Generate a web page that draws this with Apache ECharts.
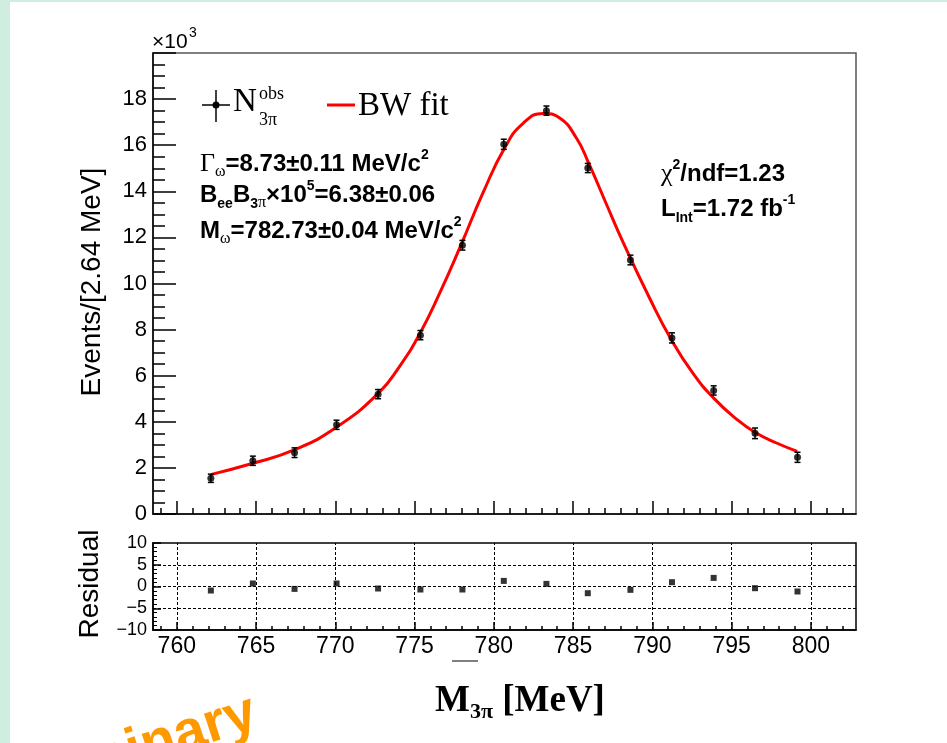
<!DOCTYPE html>
<html>
<head>
<meta charset="utf-8">
<title>M3pi distribution with Breit-Wigner fit</title>
<script src="https://cdn.jsdelivr.net/npm/echarts@6/dist/echarts.min.js"></script>
<style>
  html, body { margin: 0; padding: 0; background: #ffffff; }
  #chart { width: 947px; height: 743px; }
</style>
</head>
<body>
<div id="chart"></div>
<script>
// ---- data: bin centres [MeV], event counts [x10^3], their errors ----
const massBins = [762.15, 764.80, 767.43, 770.08, 772.70, 775.37, 778.02, 780.63,
                  783.32, 785.93, 788.62, 791.24, 793.87, 796.48, 799.16];
const eventsK = [1.55, 2.31, 2.66, 3.87, 5.20, 7.76, 11.66, 16.04,
                 17.50, 15.01, 11.02, 7.64, 5.36, 3.50, 2.46];
const eventErrK = [0.18, 0.20, 0.21, 0.20, 0.20, 0.20, 0.21, 0.22,
                   0.20, 0.20, 0.21, 0.22, 0.20, 0.23, 0.22];

// ---- fitted Breit-Wigner curve, sampled along the mass range ----
const fitMass = [762.19, 764.81, 767.44, 770.07, 772.72, 774.07, 775.33, 776.60,
                 777.96, 779.33, 780.70, 781.85, 783.11, 784.16, 785.22, 785.95,
                 787.10, 788.16, 789.84, 791.21, 792.57, 793.84, 795.31, 796.47,
                 797.84, 799.14];
const fitEventsK = [1.72, 2.20, 2.79, 3.76, 5.24, 6.42, 7.82, 9.60,
                    11.72, 13.95, 15.90, 16.95, 17.38, 17.18, 16.30, 15.28,
                    13.45, 11.78, 9.35, 7.55, 6.10, 5.05, 4.12, 3.55,
                    3.08, 2.72];

// ---- fit residuals per bin ----
const residuals = [-0.92, 0.69, -0.55, 0.69, -0.46, -0.69, -0.69, 1.29,
                   0.60, -1.54, -0.77, 0.99, 1.98, -0.39, -1.15];

// ---- axis ticks ----
const massMajorTicks = [760, 765, 770, 775, 780, 785, 790, 795, 800];
const massMinorTicks = [759, 761, 762, 763, 764, 766, 767, 768, 769, 771, 772, 773, 774,
                        776, 777, 778, 779, 781, 782, 783, 784, 786, 787, 788, 789,
                        791, 792, 793, 794, 796, 797, 798, 799, 801, 802];
const residualGridY = [-5, 0, 5];

// ---- layout ----
const MASS_MIN = 758.5, MASS_MAX = 802.85;
const SANS = '"Liberation Sans", Arial, Helvetica, sans-serif';
const SERIF = '"Liberation Serif", "Times New Roman", serif';
const BLACK = '#000000';

function massAxis(gridIndex, tickValues, tickLen, labelValues) {
  return {
    type: 'value', gridIndex: gridIndex, min: MASS_MIN, max: MASS_MAX, position: 'bottom',
    axisLine: { show: !!labelValues || tickLen > 6, onZero: false, lineStyle: { color: BLACK, width: 1.5 } },
    axisTick: { show: true, inside: true, length: tickLen, customValues: tickValues,
                lineStyle: { color: BLACK, width: 1.5 } },
    axisLabel: labelValues ? {
      show: true, customValues: labelValues, color: BLACK, fontFamily: SANS, fontSize: 23, margin: 5
    } : { show: false },
    splitLine: { show: false }, minorTick: { show: false }, minorSplitLine: { show: false }
  };
}

const chart = echarts.init(document.getElementById('chart'), null, { renderer: 'canvas' });

const annoRich = {
  t: { fontFamily: SANS, fontWeight: 'bold', fontSize: 24, lineHeight: 32, fill: BLACK },
  g: { fontFamily: SERIF, fontWeight: 'normal', fontSize: 26, lineHeight: 32, fill: BLACK },
  w: { fontFamily: SERIF, fontWeight: 'normal', fontSize: 16, lineHeight: 16, verticalAlign: 'bottom', fill: BLACK },
  s: { fontFamily: SANS, fontWeight: 'bold', fontSize: 14, lineHeight: 16, verticalAlign: 'bottom', fill: BLACK },
  sp: { fontFamily: SERIF, fontWeight: 'normal', fontSize: 16, lineHeight: 16, verticalAlign: 'bottom', fill: BLACK },
  p: { fontFamily: SANS, fontWeight: 'bold', fontSize: 14, lineHeight: 20, verticalAlign: 'top', fill: BLACK }
};

function annotation(x, y, text) {
  return { type: 'text', x: x, y: y, silent: true, z: 20,
           style: { text: text, align: 'left', verticalAlign: 'middle', rich: annoRich } };
}

const option = {
  animation: false,
  backgroundColor: '#ffffff',
  grid: [
    { left: 153, top: 53, width: 703, height: 461, show: true, borderColor: '#555555', borderWidth: 1.5 },
    { left: 153, top: 543, width: 703, height: 87, show: true, borderColor: BLACK, borderWidth: 1.5 }
  ],
  xAxis: [
    massAxis(0, massMajorTicks, 13, null),
    massAxis(1, massMajorTicks, 8, massMajorTicks),
    massAxis(0, massMinorTicks, 6, null),
    massAxis(1, massMinorTicks, 4, null)
  ],
  yAxis: [
    {
      type: 'value', gridIndex: 0, min: 0, max: 20, interval: 2,
      axisLine: { show: true, onZero: false, lineStyle: { color: BLACK, width: 1.5 } },
      axisTick: { show: true, inside: true, length: 23, lineStyle: { color: BLACK, width: 1.5 } },
      minorTick: { show: true, splitNumber: 4, length: 12, lineStyle: { color: BLACK, width: 1.5 } },
      axisLabel: { color: BLACK, fontFamily: SANS, fontSize: 22, margin: 6,
                   formatter: v => (v >= 20 ? '' : String(v)) },
      splitLine: { show: false }
    },
    {
      type: 'value', gridIndex: 1, min: -10, max: 10, interval: 5,
      axisLine: { show: true, onZero: false, lineStyle: { color: BLACK, width: 1.5 } },
      axisTick: { show: true, inside: true, length: 8, lineStyle: { color: BLACK, width: 1.5 } },
      minorTick: { show: true, splitNumber: 5, length: 4, lineStyle: { color: BLACK, width: 1 } },
      axisLabel: { color: BLACK, fontFamily: SANS, fontSize: 18, margin: 6,
                   formatter: v => (v < 0 ? '\u2212' + Math.abs(v) : String(v)) },
      splitLine: { show: false }
    }
  ],
  series: [
    {
      name: 'BW fit', type: 'line', xAxisIndex: 0, yAxisIndex: 0, silent: true, z: 2,
      data: fitMass.map((m, i) => [m, fitEventsK[i]]),
      smooth: 0.5, showSymbol: false, symbol: 'none',
      lineStyle: { color: '#ff0000', width: 3 }
    },
    {
      name: 'errors', type: 'custom', xAxisIndex: 0, yAxisIndex: 0, silent: true, z: 3,
      dimensions: ['mass', 'events', 'err'],
      encode: { x: 0, y: 1 },
      data: massBins.map((m, i) => [m, eventsK[i], eventErrK[i]]),
      renderItem: function (params, api) {
        const m = api.value(0), n = api.value(1), e = api.value(2);
        const lo = api.coord([m, n - e]);
        const hi = api.coord([m, n + e]);
        const cap = 3;
        const st = { stroke: BLACK, lineWidth: 1.5 };
        return {
          type: 'group',
          children: [
            { type: 'line', shape: { x1: lo[0], y1: lo[1], x2: hi[0], y2: hi[1] }, style: st },
            { type: 'line', shape: { x1: lo[0] - cap, y1: lo[1], x2: lo[0] + cap, y2: lo[1] }, style: st },
            { type: 'line', shape: { x1: hi[0] - cap, y1: hi[1], x2: hi[0] + cap, y2: hi[1] }, style: st }
          ]
        };
      }
    },
    {
      name: 'N3pi', type: 'scatter', xAxisIndex: 0, yAxisIndex: 0, silent: true, z: 4,
      data: massBins.map((m, i) => [m, eventsK[i]]),
      symbol: 'circle', symbolSize: 7, itemStyle: { color: BLACK }
    },
    {
      name: 'Residual', type: 'scatter', xAxisIndex: 1, yAxisIndex: 1, silent: true, z: 4,
      data: massBins.map((m, i) => [m, residuals[i]]),
      symbol: 'rect', symbolSize: 6, itemStyle: { color: BLACK },
      markLine: {
        silent: true, symbol: ['none', 'none'], animation: false, z: 1,
        label: { show: false },
        lineStyle: { color: BLACK, width: 1, type: [3, 2] },
        emphasis: { disabled: true },
        data: residualGridY.map(v => ({ yAxis: v }))
          .concat(massMajorTicks.map(v => ({ xAxis: v })))
      }
    }
  ],
  graphic: [
    // slide frame strips
    { type: 'rect', silent: true, z: 0, shape: { x: 0, y: 0, width: 10, height: 743 }, style: { fill: '#cfeee0' } },
    { type: 'rect', silent: true, z: 0, shape: { x: 0, y: 0, width: 947, height: 2 }, style: { fill: '#cfeee0' } },

    // y-axis multiplier
    { type: 'text', x: 152, y: 42, silent: true, style: { text: '\u00d710', fontFamily: SANS, fontSize: 21, fill: BLACK, align: 'left', verticalAlign: 'middle' } },
    { type: 'text', x: 189, y: 33, silent: true, style: { text: '3', fontFamily: SANS, fontSize: 14, fill: BLACK, align: 'left', verticalAlign: 'middle' } },

    // axis titles
    { type: 'text', x: 92, y: 282, rotation: Math.PI / 2, silent: true,
      style: { text: 'Events/[2.64 MeV]', fontFamily: SANS, fontSize: 28, fill: BLACK, align: 'center', verticalAlign: 'middle' } },
    { type: 'text', x: 90, y: 584, rotation: Math.PI / 2, silent: true,
      style: { text: 'Residual', fontFamily: SANS, fontSize: 28, fill: BLACK, align: 'center', verticalAlign: 'middle' } },
    { type: 'text', x: 435, y: 701, silent: true,
      style: { text: '{m|M}{s|3\u03c0}{m| [MeV]}', align: 'left', verticalAlign: 'middle',
               rich: {
                 m: { fontFamily: SERIF, fontWeight: 'bold', fontSize: 37, lineHeight: 44, fill: BLACK },
                 s: { fontFamily: SERIF, fontWeight: 'bold', fontSize: 22, lineHeight: 18, verticalAlign: 'bottom', fill: BLACK }
               } } },

    // legend
    { type: 'line', silent: true, z: 20, shape: { x1: 216, y1: 90, x2: 216, y2: 122 }, style: { stroke: BLACK, lineWidth: 1.5 } },
    { type: 'line', silent: true, z: 20, shape: { x1: 202, y1: 105, x2: 230, y2: 105 }, style: { stroke: BLACK, lineWidth: 1.5 } },
    { type: 'circle', silent: true, z: 21, shape: { cx: 216, cy: 105, r: 3.5 }, style: { fill: BLACK } },
    { type: 'text', x: 233, y: 102, silent: true, z: 20, style: { text: 'N', fontFamily: SERIF, fontSize: 33, fill: BLACK, align: 'left', verticalAlign: 'middle' } },
    { type: 'text', x: 259, y: 94, silent: true, z: 20, style: { text: 'obs', fontFamily: SERIF, fontSize: 18, fill: BLACK, align: 'left', verticalAlign: 'middle' } },
    { type: 'text', x: 259, y: 120, silent: true, z: 20, style: { text: '3\u03c0', fontFamily: SERIF, fontSize: 18, fill: BLACK, align: 'left', verticalAlign: 'middle' } },
    { type: 'line', silent: true, z: 20, shape: { x1: 327, y1: 105, x2: 355, y2: 105 }, style: { stroke: '#ff0000', lineWidth: 3 } },
    { type: 'text', x: 358, y: 106, silent: true, z: 20, style: { text: 'BW fit', fontFamily: SERIF, fontSize: 33, fill: BLACK, align: 'left', verticalAlign: 'middle' } },

    // fit results
    annotation(200, 164, '{g|\u0393}{w|\u03c9}{t|=8.73\u00b10.11 MeV/c}{p|2}'),
    annotation(200, 195, '{t|B}{s|ee}{t|B}{s|3}{sp|\u03c0}{t|\u00d710}{p|5}{t|=6.38\u00b10.06}'),
    annotation(200, 231, '{t|M}{w|\u03c9}{t|=782.73\u00b10.04 MeV/c}{p|2}'),
    annotation(661, 174, '{g|\u03c7}{p|2}{t|/ndf=1.23}'),
    annotation(661, 209, '{t|L}{s|Int}{t|=1.72 fb}{p|-1}'),

    // small rule below the axis labels
    { type: 'line', silent: true, shape: { x1: 452, y1: 661, x2: 478, y2: 661 }, style: { stroke: '#555555', lineWidth: 1.5 } },

    // watermark
    { type: 'text', x: 255, y: 712, rotation: 18 * Math.PI / 180, silent: true, z: 30,
      style: { text: 'Preliminary', fontFamily: SANS, fontWeight: 'bold', fontSize: 56, fill: '#ff9900', align: 'right', verticalAlign: 'middle' } }
  ]
};

chart.setOption(option);
</script>
</body>
</html>
